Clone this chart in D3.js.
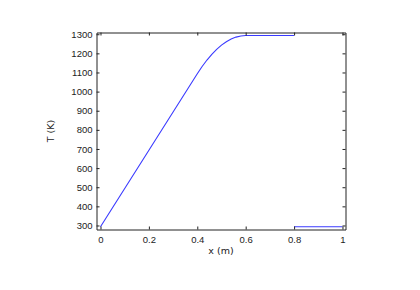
<!DOCTYPE html>
<html>
<head>
<meta charset="utf-8">
<script src="https://cdn.jsdelivr.net/npm/d3@7"></script>
<style>
  body { margin: 0; background: #fff; }
  svg { display: block; font-family: "DejaVu Sans", sans-serif; }
</style>
</head>
<body>
<svg id="chart" width="420" height="290"></svg>
<script>
// heated section, x in m, T in K
const heatX = [0, 0.1, 0.2, 0.3, 0.4, 0.42, 0.44, 0.46, 0.48, 0.5, 0.52, 0.54, 0.56, 0.58, 0.6, 0.8];
const heatT = [293, 493, 693, 893, 1093, 1131, 1165, 1195, 1221, 1243, 1261, 1275, 1285, 1291, 1293, 1293];
// cold section
const coldX = [0.8, 1.0];
const coldT = [293, 293];

const xTicks = [0, 0.2, 0.4, 0.6, 0.8, 1];
const yTicks = [300, 400, 500, 600, 700, 800, 900, 1000, 1100, 1200, 1300];

const svg = d3.select("#chart");

const x = d3.scaleLinear().domain([-0.0165, 1.0125]).range([96.5, 345.5]);
const y = d3.scaleLinear().domain([279, 1309]).range([229.5, 32.5]);

const line = d3.line().x(d => x(d[0])).y(d => y(d[1]));

const series = [
  d3.zip(heatX, heatT),
  d3.zip(coldX, coldT)
];

svg.append("g")
  .attr("fill", "none")
  .attr("stroke", "#3a3aff")
  .attr("stroke-width", 1.1)
  .selectAll("path")
  .data(series)
  .join("path")
  .attr("d", line);

const tickLen = 3;
const axisColor = "#222";

// bottom axis with inward ticks
svg.append("g")
  .attr("transform", `translate(0,${y.range()[0]})`)
  .call(d3.axisBottom(x).tickValues(xTicks).tickSizeInner(-tickLen).tickSizeOuter(0)
    .tickPadding(7).tickFormat(d3.format("~g")));
// left axis
svg.append("g")
  .attr("transform", `translate(${x.range()[0]},0)`)
  .call(d3.axisLeft(y).tickValues(yTicks).tickSizeInner(-tickLen).tickSizeOuter(0)
    .tickPadding(4).tickFormat(d3.format("d")));
// top and right: ticks only
svg.append("g")
  .attr("transform", `translate(0,${y.range()[1]})`)
  .call(d3.axisTop(x).tickValues(xTicks).tickSizeInner(-tickLen).tickSizeOuter(0).tickFormat(""));
svg.append("g")
  .attr("transform", `translate(${x.range()[1]},0)`)
  .call(d3.axisRight(y).tickValues(yTicks).tickSizeInner(-tickLen).tickSizeOuter(0).tickFormat(""));

svg.selectAll(".domain").attr("stroke", axisColor);
svg.selectAll(".tick line").attr("stroke", axisColor);
svg.selectAll(".tick text").attr("fill", "#222").style("font-size", "9.5px");

svg.append("text")
  .attr("x", (x.range()[0] + x.range()[1]) / 2)
  .attr("y", 253.5)
  .attr("text-anchor", "middle")
  .style("font-size", "9.5px")
  .attr("fill", "#222")
  .text("x (m)");

svg.append("text")
  .attr("transform", `translate(53.5,${(y.range()[0] + y.range()[1]) / 2}) rotate(-90)`)
  .attr("text-anchor", "middle")
  .style("font-size", "9.5px")
  .attr("fill", "#222")
  .text("T (K)");
</script>
</body>
</html>
